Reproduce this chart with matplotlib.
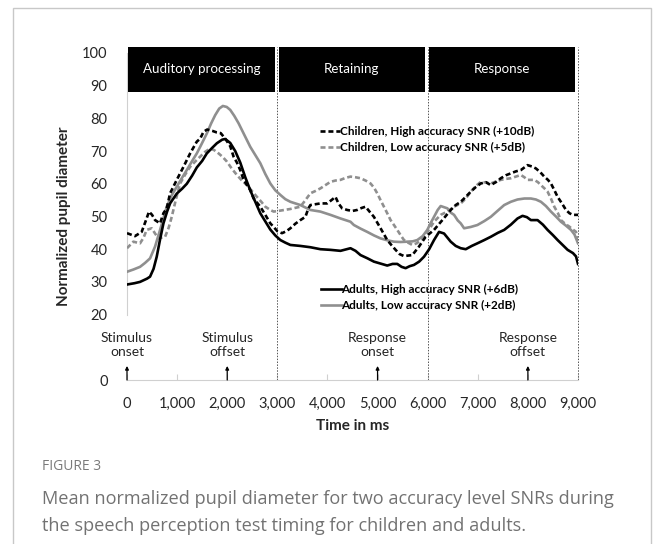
import matplotlib
matplotlib.use("Agg")
import matplotlib.pyplot as plt
from matplotlib.patches import Rectangle
from matplotlib.lines import Line2D

plt.rcParams['font.family'] = ['Lato', 'DejaVu Sans']

# ---------------- data ----------------
adults_high_t = [0, 150, 260, 400, 460, 530, 593, 660, 727, 800, 860, 993, 1100, 1193, 1300, 1393, 1500, 1593, 1700, 1793, 1900, 1960, 2060, 2160, 2260, 2360, 2460, 2560, 2660, 2760, 2860, 2960, 3060, 3160, 3260, 3460, 3660, 3860, 4060, 4260, 4460, 4560, 4660, 4800, 4927, 5060, 5193, 5300, 5393, 5480, 5560, 5640, 5727, 5830, 5927, 6030, 6127, 6227, 6327, 6460, 6560, 6660, 6760, 6880, 6993, 7130, 7260, 7400, 7527, 7660, 7793, 7893, 7980, 8060, 8193, 8300, 8393, 8500, 8593, 8700, 8793, 8900, 8960, 9000]
adults_high = [29.2, 29.6, 30.0, 31.0, 31.6, 34.0, 37.7, 43.0, 47.9, 51.5, 54.0, 57.0, 58.5, 60.0, 62.5, 65.0, 67.0, 69.3, 71.0, 72.4, 73.5, 73.7, 72.5, 70.0, 66.5, 62.0, 58.0, 54.5, 51.0, 48.5, 46.0, 44.2, 42.8, 42.0, 41.3, 41.0, 40.6, 40.0, 39.8, 39.5, 40.3, 39.5, 38.2, 37.2, 36.2, 35.6, 35.0, 35.5, 35.5, 34.6, 34.2, 34.8, 35.2, 36.2, 37.7, 40.0, 42.8, 45.3, 44.8, 42.3, 41.0, 40.3, 40.0, 41.0, 41.8, 42.8, 43.8, 45.0, 45.9, 47.5, 49.4, 50.2, 49.8, 48.9, 48.9, 47.5, 45.9, 44.3, 42.8, 41.2, 39.8, 38.8, 37.8, 35.5]

adults_low_t = [0, 130, 260, 360, 460, 560, 660, 793, 893, 993, 1093, 1193, 1293, 1393, 1493, 1593, 1680, 1760, 1840, 1913, 1990, 2060, 2140, 2227, 2340, 2460, 2560, 2660, 2760, 2860, 2960, 3060, 3160, 3260, 3460, 3660, 3860, 4060, 4260, 4460, 4527, 4660, 4793, 4930, 5060, 5200, 5327, 5460, 5593, 5700, 5793, 5900, 5993, 6060, 6127, 6200, 6260, 6393, 6460, 6527, 6600, 6660, 6727, 6860, 6993, 7130, 7260, 7400, 7527, 7660, 7793, 7930, 8060, 8160, 8260, 8360, 8460, 8560, 8660, 8760, 8860, 8930, 9000]
adults_low = [33.1, 33.8, 34.6, 35.8, 37.2, 40.8, 45.9, 53.0, 56.5, 59.1, 61.7, 64.2, 66.8, 69.3, 72.3, 75.4, 78.5, 81.0, 83.0, 83.8, 83.5, 82.6, 80.8, 78.5, 75.0, 71.3, 68.8, 66.3, 63.0, 60.1, 58.0, 56.6, 55.3, 54.5, 53.5, 52.0, 51.5, 50.5, 49.4, 48.4, 47.4, 46.3, 45.3, 44.2, 43.3, 42.7, 42.3, 42.2, 42.3, 42.4, 42.8, 44.0, 45.9, 48.0, 49.9, 52.0, 53.2, 52.5, 51.2, 50.5, 48.8, 47.9, 46.4, 46.8, 47.4, 48.6, 49.9, 51.8, 53.5, 54.5, 55.2, 55.5, 55.5, 55.2, 54.5, 53.2, 51.5, 50.0, 48.4, 47.2, 45.9, 44.5, 41.8]

children_high_t = [0, 160, 293, 370, 440, 500, 560, 660, 727, 793, 860, 993, 1127, 1260, 1393, 1460, 1527, 1600, 1700, 1793, 1870, 1960, 2060, 2127, 2193, 2260, 2327, 2460, 2527, 2660, 2760, 2860, 2927, 3000, 3093, 3180, 3260, 3360, 3460, 3560, 3620, 3660, 3860, 3993, 4080, 4160, 4220, 4293, 4393, 4500, 4593, 4680, 4760, 4840, 4927, 5060, 5193, 5280, 5360, 5440, 5527, 5693, 5760, 5827, 5960, 6127, 6293, 6460, 6560, 6660, 6760, 6860, 6960, 7060, 7160, 7260, 7360, 7460, 7560, 7660, 7760, 7860, 7930, 7993, 8080, 8160, 8250, 8327, 8400, 8460, 8530, 8593, 8680, 8760, 8830, 8893, 8950, 9000]
children_high = [44.9, 44.0, 45.3, 48.5, 51.5, 50.5, 48.9, 47.9, 51.0, 52.5, 57.1, 61.2, 65.2, 69.3, 72.9, 73.8, 75.9, 76.6, 76.2, 75.7, 75.5, 73.8, 71.5, 68.3, 66.5, 64.2, 61.2, 58.1, 55.5, 53.0, 50.5, 47.9, 46.8, 45.5, 44.9, 45.5, 46.4, 47.8, 48.9, 49.9, 52.5, 53.5, 54.0, 54.0, 55.0, 56.0, 54.0, 52.5, 52.0, 51.7, 52.0, 52.6, 53.0, 51.5, 49.9, 46.4, 42.8, 41.2, 39.8, 38.5, 37.9, 38.2, 39.5, 40.8, 43.8, 45.9, 48.9, 52.0, 53.5, 54.5, 56.0, 57.6, 59.0, 60.1, 60.5, 59.6, 60.5, 61.7, 62.6, 63.2, 63.8, 64.2, 65.0, 65.7, 65.3, 64.7, 63.5, 62.2, 61.2, 60.1, 58.0, 56.0, 54.0, 52.0, 51.0, 50.5, 50.5, 50.5]

children_low_t = [0, 127, 260, 330, 393, 493, 560, 627, 760, 830, 893, 980, 1060, 1160, 1260, 1360, 1460, 1560, 1660, 1740, 1827, 1910, 1993, 2093, 2193, 2293, 2393, 2493, 2593, 2680, 2760, 2860, 2927, 3060, 3260, 3460, 3560, 3660, 3760, 3860, 3960, 4060, 4160, 4260, 4360, 4460, 4560, 4660, 4760, 4860, 4930, 4993, 5060, 5127, 5193, 5260, 5327, 5393, 5460, 5527, 5610, 5693, 5780, 5860, 5930, 5993, 6060, 6127, 6260, 6393, 6527, 6660, 6760, 6860, 6960, 7060, 7160, 7260, 7360, 7460, 7560, 7660, 7760, 7860, 7930, 7993, 8127, 8200, 8260, 8330, 8393, 8460, 8527, 8600, 8660, 8740, 8827, 8900, 8960, 9000]
children_low = [40.3, 42.3, 41.8, 43.5, 45.9, 46.4, 44.8, 43.3, 43.8, 46.5, 49.9, 55.5, 60.1, 62.8, 65.2, 66.8, 68.3, 69.8, 70.8, 70.3, 69.3, 68.2, 66.8, 64.6, 62.7, 61.0, 59.6, 57.8, 56.0, 54.5, 53.0, 52.0, 51.5, 51.8, 52.3, 53.0, 55.0, 57.1, 57.8, 58.6, 59.6, 60.6, 61.0, 61.2, 61.8, 62.2, 62.0, 61.7, 61.0, 60.1, 58.8, 57.1, 55.0, 53.0, 51.0, 48.9, 47.4, 45.9, 44.3, 42.8, 42.0, 41.3, 41.8, 42.8, 44.0, 45.3, 46.8, 48.4, 50.5, 51.5, 53.0, 54.0, 55.5, 57.6, 59.3, 60.6, 60.4, 60.1, 60.7, 61.2, 61.5, 61.7, 62.2, 62.7, 62.0, 61.2, 61.2, 60.5, 59.6, 58.6, 57.6, 55.5, 53.0, 51.0, 48.9, 47.8, 46.9, 46.0, 45.3, 42.3]

phase_labels = ["Auditory processing", "Retaining", "Response"]
phase_starts = [0, 3000, 6000]
phase_ends = [3000, 6000, 9000]

event_labels = ["Stimulus\nonset", "Stimulus\noffset", "Response\nonset", "Response\noffset"]
event_times = [0, 2000, 5000, 8000]

x_ticks = [0, 1000, 2000, 3000, 4000, 5000, 6000, 7000, 8000, 9000]
x_tick_labels = ["0", "1,000", "2,000", "3,000", "4,000", "5,000", "6,000", "7,000", "8,000", "9,000"]
y_ticks = [0, 20, 30, 40, 50, 60, 70, 80, 90, 100]

legend_children = ["Children, High accuracy SNR (+10dB)", "Children, Low accuracy SNR (+5dB)"]
legend_adults = ["Adults, High accuracy SNR (+6dB)", "Adults, Low accuracy SNR (+2dB)"]

# ---------------- figure ----------------
W, H = 656, 544
fig = plt.figure(figsize=(W / 100, H / 100), dpi=100)
ax = fig.add_axes([127 / W, 1 - 380 / H, 451 / W, 327 / H])
ax.set_xlim(0, 9000)
ax.set_ylim(0, 100)

BLACK = "#000000"
GRAY = "#8f8f8f"
TXT = "#262626"
LW = 1.9
DASH = (1.9, 1.1)

ax.plot(adults_high_t, adults_high, color=BLACK, lw=LW, solid_joinstyle="round", zorder=4)
ax.plot(adults_low_t, adults_low, color=GRAY, lw=LW, solid_joinstyle="round", zorder=3)
ax.plot(children_high_t, children_high, color=BLACK, lw=LW, dashes=DASH, zorder=4)
ax.plot(children_low_t, children_low, color=GRAY, lw=LW, dashes=DASH, zorder=3)

# phase header boxes and separators
for lab, s, e in zip(phase_labels, phase_starts, phase_ends):
    x0 = s + 25
    x1 = e - 55
    ax.add_patch(Rectangle((x0, 88.2), x1 - x0, 13.6,
                           facecolor="black", edgecolor="none", zorder=5, clip_on=False))
    ax.text((x0 + x1) / 2, 95.1, lab, color="white", ha="center", va="center",
            fontsize=9.6, zorder=6)
for e in phase_ends:
    ax.plot([e, e], [0, 101.8], color="#555555", lw=0.7, ls=(0, (1.5, 1.5)), zorder=2, clip_on=False)

# event annotations
for lab, t in zip(event_labels, event_times):
    ax.text(t, 10.7, lab, ha="center", va="center", fontsize=10, color=TXT, linespacing=1.2)
    ax.annotate("", xy=(t, 4.3), xytext=(t, 0), zorder=6,
                arrowprops=dict(arrowstyle="-|>", color="black", lw=0.9,
                                mutation_scale=5, shrinkA=0, shrinkB=0))

# axes styling
for side in ["top", "right"]:
    ax.spines[side].set_visible(False)
ax.spines["left"].set_bounds(20, 100)
ax.spines["left"].set_color("#d0d0d0")
ax.spines["bottom"].set_color("#d0d0d0")
ax.set_xticks(x_ticks)
ax.set_xticklabels(x_tick_labels)
ax.set_yticks(y_ticks)
ax.tick_params(axis="x", direction="in", length=4, color="#d0d0d0", labelsize=10.5, pad=12,
               labelcolor=TXT)
ax.tick_params(axis="y", length=0, labelsize=10.5, pad=14, labelcolor=TXT)
ax.set_xlabel("Time in ms", fontsize=11, fontweight="bold", labelpad=6, color=TXT)
ax.set_ylabel("Normalized pupil diameter", fontsize=11, fontweight="bold", labelpad=8, color=TXT)

# legends
h_child = [Line2D([], [], color=BLACK, lw=LW, dashes=DASH),
           Line2D([], [], color=GRAY, lw=LW, dashes=DASH)]
h_adult = [Line2D([], [], color=BLACK, lw=LW),
           Line2D([], [], color=GRAY, lw=LW)]
leg_kw = dict(frameon=False, handlelength=1.7, handletextpad=0.0, labelspacing=0.42,
              borderaxespad=0, borderpad=0, prop=dict(size=8.5, weight="bold"))
leg1 = ax.legend(h_child, legend_children, loc="center left",
                 bbox_to_anchor=(3860 / 9000, 73.5 / 100), **leg_kw)
ax.add_artist(leg1)
leg2 = ax.legend(h_adult, legend_adults, loc="center left",
                 bbox_to_anchor=(3880 / 9000, 25.1 / 100), **leg_kw)

# outer frame and caption
fig.patches.append(Rectangle((13 / W, -0.1), (651 - 13) / W, 1.1 - 8 / H,
                             transform=fig.transFigure, facecolor="none",
                             edgecolor="#c8c8c8", lw=1.0))
fig.text(42 / W, 1 - 467 / H, "FIGURE 3", fontsize=10, color="#7a7a7a", va="center",
         family=["Open Sans", "DejaVu Sans"])
fig.text(42 / W, 1 - 512.5 / H,
         "Mean normalized pupil diameter for two accuracy level SNRs during\n"
         "the speech perception test timing for children and adults.",
         fontsize=13.1, color="#727272", va="center", linespacing=1.65,
         family=["Open Sans", "DejaVu Sans"])

fig.savefig("out.png", dpi=100)
